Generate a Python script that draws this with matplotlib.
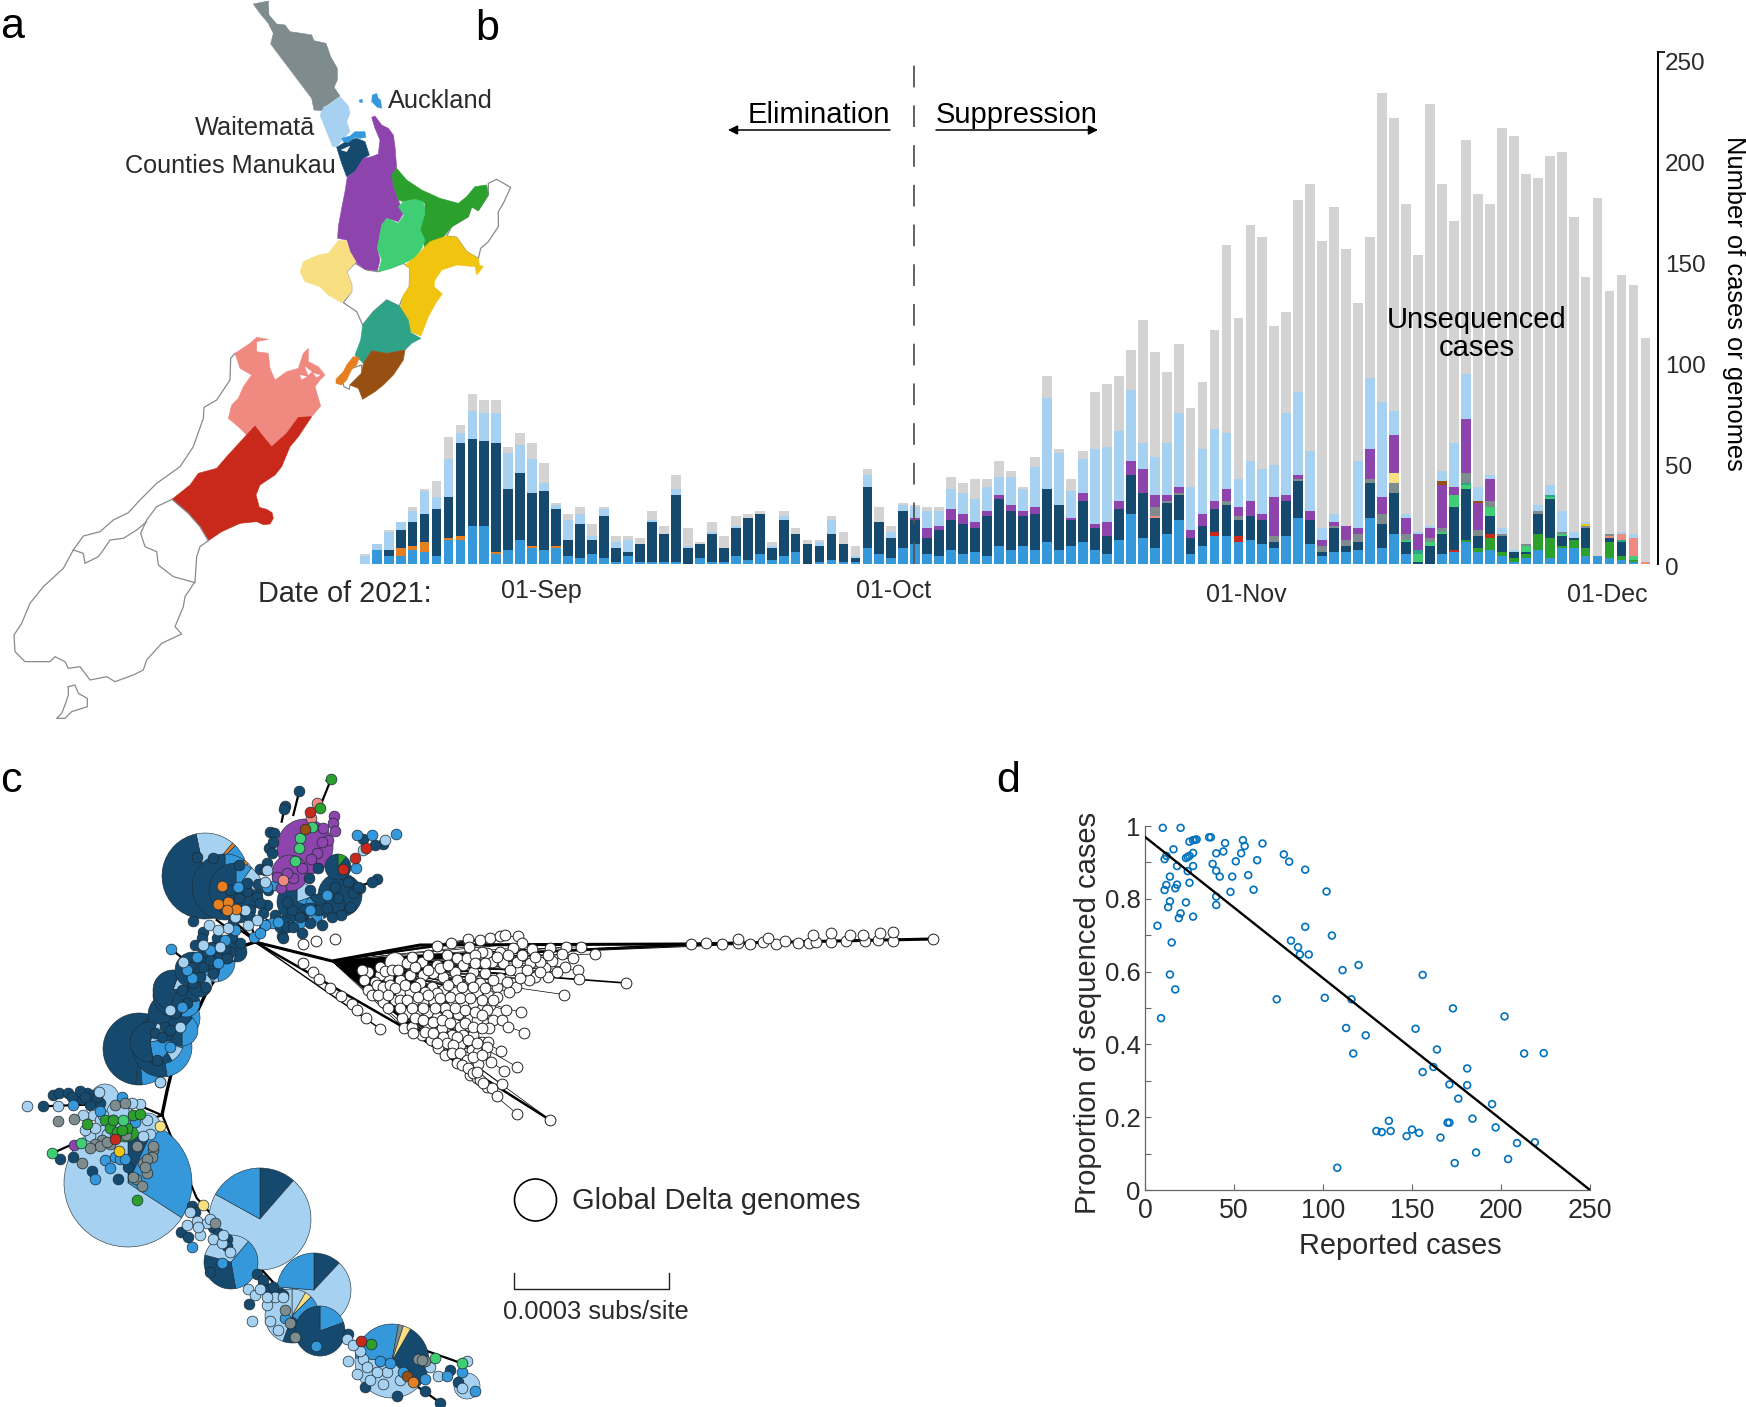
import numpy as np
import matplotlib
matplotlib.use('Agg')
import matplotlib.pyplot as plt
from matplotlib.patches import Polygon, Wedge, Circle
from matplotlib.transforms import ScaledTranslation

plt.rcParams['font.family'] = ['Liberation Sans', 'DejaVu Sans']

W, H = 1746, 1407
TXT = '#2a2a2a'

# region colours shared by map, bars and tree
COL = {
    'auckland': '#3498db', 'counties': '#154a6e', 'waitemata': '#a6d1f0',
    'northland': '#7f8c8d', 'waikato': '#8e44ad', 'bop': '#2ca02c',
    'lakes': '#3fce73', 'taranaki': '#f7df82', 'hawkes': '#f1c40f',
    'midcentral': '#2fa387', 'wairarapa': '#975012', 'capital': '#e67e22',
    'nelson': '#f08a80', 'canterbury': '#c9291b', 'unseq': '#d3d3d3',
}

# ---------------------------------------------------------------------------
# Panel b: daily counts, 108 days
# ---------------------------------------------------------------------------
auckland = [0,7,4,4,7,6,4,12,12,19, 19,5,7,12,8,7,8,4,3,5, 3,1,4,1,1,1,1,0,3,1,
            1,4,2,5,2,4,6,0,1,2, 1,1,8,5,3,8,10,5,4,7, 5,6,4,9,7,9,7,11,7,9,
            11,7,5,12,25,13,8,15,22,5, 9,14,14,11,12,10,8,14,23,10,
            4,6,6,7,23,8,15,5,0,0, 5,6,11,6,7,4,1,3,7,3, 8,8,4,4,3,2,1,0]
counties = [0,0,3,9,12,14,23,20,46,43, 42,54,30,33,26,29,18,8,17,7, 21,7,2,9,20,14,33,8,7,14,
            7,14,21,20,6,18,9,10,8,13, 9,2,30,16,10,18,12,8,13,15, 15,12,20,23,19,15,18,26,22,13,
            20,11,9,15,19,22,15,15,12,8, 10,11,15,8,12,12,3,17,18,12,
            2,12,3,4,17,12,20,6,1,9, 10,21,25,6,9,8,3,1,10,19, 5,1,10,0,2,7,0,0]
waitemata = [4,3,9,4,5,11,6,19,5,14, 14,15,18,14,17,4,2,10,5,2, 3,3,6,0,1,0,3,1,0,1,
             0,1,0,0,1,2,0,0,2,7, 0,1,6,0,3,3,5,8,7,10, 10,11,12,9,14,11,20,45,26,13,
             17,37,37,35,35,13,19,26,37,21, 32,36,28,14,20,22,16,41,41,30,
             6,4,0,33,35,47,12,2,1,1, 5,22,22,7,2,3,1,0,3,5, 10,3,1,0,0,1,2,0]
unsequenced = [1,0,1,0,2,1,8,11,4,8, 6,6,3,6,8,10,1,3,3,6, 1,3,2,3,4,4,7,9,1,5,
               6,5,2,1,2,2,3,2,1,2, 6,5,3,7,3,1,1,2,2,6, 5,10,4,8,3,1,5,11,2,6,
               4,28,31,27,20,61,52,35,34,39, 33,49,93,80,117,115,69,50,95,132,
               142,152,137,78,70,153,145,153,137,209, 142,110,116,145,134,198,205,183,162,163,
               178,156,121,177,120,127,123,111]

# regions with few sequenced cases, day index -> count
capital = {3:4, 4:2, 5:5, 7:1, 8:2, 11:1, 14:1, 16:1}
bop = {92:1, 93:2, 94:6, 95:2, 96:2, 97:2, 98:8, 99:10, 100:1, 101:4, 102:4, 104:8, 105:2, 106:1}
canterbury = {71:2, 73:3, 91:1, 94:2}
lakes = {87:1, 88:4, 89:2, 90:1, 91:6, 92:2, 94:4, 97:3, 99:1, 100:1, 106:2}
midcentral = {88:2, 92:1, 99:1, 105:1}
nelson = {66:1, 104:1, 105:3, 106:9, 107:1}
northland = {66:4, 67:1, 68:1, 72:2, 73:2, 76:3, 78:1, 80:3, 81:1, 82:3, 83:4, 84:2, 85:5, 86:5, 87:3,
             89:2, 90:2, 92:5, 93:3, 94:3, 95:1, 97:1, 98:1, 100:1, 102:1, 104:1}
hawkes = {102:1}
taranaki = {86:5}
waikato = {46:1, 47:5, 48:2, 49:5, 50:5, 51:3, 52:2, 53:2, 54:3, 55:2, 56:3, 59:1, 60:4, 61:2, 62:7, 63:4,
           64:7, 65:12, 66:6, 67:3, 68:3, 69:4, 70:6, 71:4, 72:6, 73:4, 74:7, 75:3, 76:19, 77:3, 78:2, 79:4,
           80:3, 81:2, 82:7, 83:3, 84:15, 85:8, 86:19, 87:8, 88:8, 89:5, 90:21, 91:4, 92:27, 93:13, 94:11}
wairarapa = {90:2, 93:1}

bar_yticks = [0, 50, 100, 150, 200, 250]
date_labels = ['01-Sep', '01-Oct', '01-Nov', '01-Dec']

# ---------------------------------------------------------------------------
# Panel d: reported cases vs proportion sequenced
# ---------------------------------------------------------------------------
reported = [10,20,16,11,12,18,14,12,11,17,18,14,13,23,20,19,27,7,15,14,17,9,25,27,28,29,36,37,45,55,56,66,
            40,44,27,25,24,23,54,51,63,38,27,24,40,42,49,58,25,48,61,40,40,78,81,90,102,90,105,82,86,87,92,
            120,111,74,101,116,156,173,202,113,124,152,117,164,213,224,162,156,181,171,181,176,195,137,130,
            133,138,147,150,154,170,171,184,197,166,209,219,186,204,174,108]
prop_seq = [.995,.995,.936,.909,.918,.890,.861,.838,.824,.829,.839,.793,.777,.790,.760,.747,.751,.726,.680,.592,
            .551,.472,.957,.961,.962,.963,.969,.969,.953,.961,.945,.952,.925,.930,.926,.918,.915,.912,.925,.903,
            .906,.896,.890,.876,.877,.861,.861,.865,.844,.819,.825,.806,.783,.922,.902,.880,.820,.723,.699,.685,
            .667,.647,.647,.618,.604,.524,.528,.524,.591,.499,.477,.445,.425,.443,.375,.386,.375,.376,.338,.324,
            .334,.290,.288,.251,.236,.190,.162,.159,.162,.148,.166,.157,.185,.185,.196,.172,.144,.129,.131,.103,
            .085,.074,.061]
fit_x = [0, 250]
fit_y = [0.97, 0]

# ---------------------------------------------------------------------------
# Panel a: region outlines (crop units, see to_north / to_south)
# ---------------------------------------------------------------------------
north_regions = {
    'northland': [(40,12),(85,3),(87,45),(110,72),(135,75),(150,95),(185,100),(215,105),(222,122),(258,130),(272,170),
                  (292,205),(292,240),(282,262),(300,288),(262,315),(245,332),(222,330),(215,295),(92,132),(100,100),(85,70),(60,40)],
    'waitemata': [(300,290),(325,318),(330,340),(320,365),(330,395),(315,410),(290,440),(278,440),(240,345),(252,320),(268,315)],
    'counties': [(290,442),(325,420),(350,415),(375,425),(388,465),(370,475),(345,515),(320,530),(305,490)],
    'waikato': [(395,352),(405,348),(425,375),(445,385),(460,405),(465,440),(470,505),(455,525),(462,560),(475,600),(490,640),
                (475,665),(440,655),(425,675),(412,745),(420,780),(412,812),(375,808),(345,785),(330,755),(320,720),(293,715),
                (295,680),(305,625),(315,575),(322,530),(345,515),(370,475),(395,470),(415,462),(420,420),(405,385)],
    'bop': [(470,505),(500,540),(545,570),(600,595),(655,610),(680,590),(705,560),(740,555),(745,585),(715,632),(695,620),
            (685,650),(635,680),(605,718),(575,725),(555,745),(540,690),(553,640),(555,610),(525,598),(490,605),(475,600),(462,560),(455,525)],
    'lakes': [(490,605),(525,598),(550,605),(555,640),(540,690),(555,720),(545,745),(525,775),(490,790),(455,805),(415,815),
              (425,780),(412,745),(425,675),(440,655),(475,670),(492,645),(475,620)],
    'taranaki': [(295,722),(320,722),(330,755),(348,785),(320,815),(335,855),(335,875),(305,908),(265,885),(240,860),(195,845),
                 (180,815),(190,785),(235,765),(265,760)],
    'hawkes': [(570,725),(620,708),(650,712),(680,755),(715,775),(718,795),(730,800),(710,825),(705,800),(650,795),(605,810),
               (585,840),(582,860),(607,882),(590,905),(565,950),(543,1008),(510,995),(505,960),(478,935),(490,885),(508,860),(510,805),(495,795),(525,772)],
    'midcentral': [(440,900),(478,918),(505,960),(512,998),(543,1015),(515,1030),(495,1050),(440,1060),(395,1052),(370,1090),(345,1065),(362,1020),(368,975),(400,935)],
    'wairarapa': [(395,1052),(440,1060),(495,1050),(490,1080),(460,1125),(430,1155),(405,1175),(368,1198),(355,1165),(330,1155),(365,1120),(370,1090)],
    'capital': [(340,1070),(358,1072),(350,1095),(335,1108),(320,1140),(305,1155),(288,1150),(288,1138),(310,1115),(320,1095)],
}
auckland_bits = [
    [(397,285),(410,280),(415,295),(422,300),(425,325),(412,322),(395,305)],
    [(358,300),(367,298),(367,308),(358,306)],
    [(305,415),(330,408),(345,395),(375,395),(378,412),(360,415),(345,412),(325,428),(310,425)],
]
manukau_inlet = [(303,450),(330,438),(320,455)]
north_blank = [
    [(745,550),(770,538),(812,562),(790,610),(775,635),(775,680),(745,725),(722,745),(715,775),(680,755),(650,712),(620,708),(635,680),(685,650),(695,620),(715,632),(745,585)],
    [(320,815),(345,790),(380,810),(415,815),(490,790),(510,805),(508,860),(485,900),(478,918),(440,900),(400,935),(368,975),(350,935),(310,908),(335,875),(335,855)],
    [(335,1105),(365,1095),(365,1120),(330,1155),(328,1168),(312,1160),(308,1145)],
]
south_regions = {
    'nelson': [(705,70),(750,40),(770,22),(805,28),(770,35),(770,65),(805,70),(810,115),(825,150),(860,125),(895,115),(910,70),(925,55),(925,95),
               (955,110),(975,135),(960,150),(945,170),(962,228),(935,260),(895,262),(860,310),(815,350),(790,320),(765,288),(745,320),(715,290),
               (685,265),(695,225),(715,205),(730,170),(755,135),(720,115)],
    'canterbury': [(516,508),(570,465),(595,430),(650,415),(680,380),(735,320),(765,288),(790,320),(815,350),(860,310),(895,262),(935,260),(895,320),
                   (870,350),(845,410),(825,435),(780,465),(768,495),(778,532),(800,538),(816,548),(820,565),(810,582),(790,584),(770,575),(720,580),(665,605),(625,632),(600,590),(565,550)],
}
marlborough_flecks = [[(915,110),(935,125),(925,135)], [(940,130),(960,135),(950,142)], [(900,135),(920,140),(905,148)]]
south_lines = [
    [(705,70),(692,85),(690,150),(650,210),(612,232),(610,265),(580,350),(540,410),(470,460),(420,510),(385,548),(340,570),(300,605),(250,618),(220,660)],
    [(220,660),(190,715),(130,770),(90,820),(65,880),(42,915),(45,965),(75,995),(150,995),(165,980),(195,995),(205,1015),(240,1010),(270,1050),(320,1040),
     (345,1055),(400,1035),(430,1020),(440,990),(485,940),(545,912),(525,890),(550,830),(555,800),(585,755),(590,680),(600,650),(625,632)],
    [(516,508),(470,530),(440,570),(422,610),(435,650),(470,665),(475,705),(520,740),(585,758)],
    [(440,575),(410,600),(370,625),(330,630),(310,660),(295,680),(255,700),(250,670),(220,660)],
    [(516,508),(565,550),(600,590),(625,632)],
    [(205,1070),(225,1065),(235,1090),(262,1105),(262,1130),(215,1145),(195,1165),(170,1165),(185,1150),(195,1125),(205,1095),(205,1070)],
]

# ---------------------------------------------------------------------------
# Panel c: tree, pie nodes and tips (picture pixels unless a crop helper wraps them)
# ---------------------------------------------------------------------------
trunk = [(162,1115),(167,1091),(173,1066),(187,1033),(207,991),(227,962),(243,946),(255,942)]
hub = (332,961)

pie_x = [128,260,231,314,292,320,392,205,225,236,139,175,170,160,173,178,162,193,305,290,340,297,338,125,467,
         215,225,237,205,200,186,182,150, 310,296,318,283,335, 105,148,118]
pie_y = [1183,1219,1262,1290,1316,1331,1361,876,887,890,1049,995,1015,1040,990,1018,1047,970,847,873,895,902,867,1125,1386,
         962,950,952,968,985,1003,1030,1042, 915,920,907,925,905, 1098,1125,1112]
pie_r = [64,51,27,37,27,25,37,43,33,27,36,22,22,24,20,22,30,18,28,18,22,20,13,17,13,
         20,14,10,15,12,14,16,20, 12,11,13,9,10, 14,12,11]
pie_start = [0,0,40,0,0,0,30,-12,0,0,185,40,30,40,20,30,40,20,0,0,0,0,0,60,0,
             60,20,200,120,30,80,40,20, 30,90,150,60,10, 0,0,0]
pie_parts = [
    [('counties',25),('auckland',98),('waitemata',237)],
    [('counties',41),('waitemata',258),('auckland',61)],
    [('auckland',130),('counties',115),('waitemata',115)],
    [('counties',43),('waitemata',232),('auckland',85)],
    [('waitemata',30),('taranaki',15),('auckland',85),('counties',70),('waitemata',160)],
    [('auckland',70),('counties',290)],
    [('counties',105),('waitemata',140),('auckland',95),('northland',8),('taranaki',12)],
    [('waitemata',52),('capital',5),('auckland',40),('counties',263)],
    [('auckland',35),('capital',10),('waitemata',45),('counties',270)],
    [('auckland',35),('waitemata',55),('counties',270)],
    [('counties',235),('waitemata',30),('auckland',85),('counties',10)],
    [('auckland',90),('waitemata',50),('counties',220)],
    [('auckland',100),('counties',260)],
    [('auckland',70),('waitemata',40),('counties',250)],
    [('waitemata',60),('counties',300)],
    [('auckland',110),('counties',250)],
    [('auckland',130),('counties',230)],
    [('waitemata',120),('counties',240)],
    [('waikato',360)],
    [('waikato',360)],
    [('counties',360)],
    [('waitemata',70),('auckland',40),('counties',250)],
    [('bop',40),('counties',320)],
    [('bop',180),('waitemata',180)],
    [('waitemata',360)],
    [('auckland',110),('waitemata',50),('counties',200)],
    [('auckland',120),('counties',240)],
    [('waitemata',100),('counties',260)],
    [('auckland',90),('counties',270)],
    [('waitemata',70),('counties',290)],
    [('auckland',120),('counties',240)],
    [('auckland',140),('counties',220)],
    [('waitemata',60),('auckland',90),('counties',210)],
    [('auckland',110),('waitemata',70),('counties',180)],
    [('auckland',150),('counties',210)],
    [('waitemata',80),('auckland',90),('counties',190)],
    [('auckland',120),('counties',240)],
    [('counties',360)],
    [('waitemata',360)],
    [('waitemata',360)],
    [('waitemata',360)],
]

# white tips, crop units of the global cloud
global_cloud = [(412,78),(453,70),(505,58),(508,80),(540,60),(570,55),(600,48),(615,45),(655,47),(665,70),(695,88),(750,85),(797,82),(842,80),(885,102),
    (820,115),(787,103),(757,122),(735,145),(795,140),(835,150),(838,178),(745,170),(705,170),(688,180),(655,152),(648,200),(627,215),(590,200),(793,224),
    (320,130),(365,125),(410,135),(440,105),(470,115),(490,135),(520,155),(465,155),(560,100),(545,95),(600,95),(640,85),(610,130),(575,125),
    (650,125),(690,130),(720,125),(680,150),(630,150),(600,175),(555,160),(540,190),(510,175),(470,180),(430,170),(400,160),(370,165),(330,165),(300,180),
    (265,170),(240,165),(205,155),(185,150),(192,180),(225,185),(205,210),(215,225),(250,245),(285,240),(265,265),(300,215),(330,215),(360,190),(395,200),
    (430,210),(465,215),(500,220),(530,215),(565,225),(590,230),(570,255),(545,260),(520,250),(490,250),(460,245),(435,265),(400,240),(370,245),(340,245),
    (320,280),(355,270),(385,275),(410,290),(435,300),(475,282),(510,295),(530,300),(560,270),(580,300),(605,300),(618,270),(663,277),(625,320),(673,338),
    (567,325),(305,295),(312,325),(335,320),(365,345),(385,315),(425,325),(455,345),(480,320),(490,345),(520,345),(545,365),(565,365),(393,360),(415,385),
    (435,405),(470,390),(480,375),(500,400),(515,390),(535,395),(555,400),(603,393),(573,425),(613,452),(650,440),(470,430),(495,410),(515,435),(535,432),
    (510,465),(530,475),(540,480),(560,500),(575,505),(590,527),(605,492),(652,582),(751,600),
    (240,140),(255,152),(275,150),(295,150),(345,140),(385,150),(420,145),(445,135),(500,115),(525,105),(525,130),(555,130),(590,112),(625,105),(665,105),(705,110),(745,105),
    (335,110),(385,105),(230,195),(250,200),(270,195),(285,205),(315,195),(345,200),(375,215),(410,220),(445,195),(485,200),(520,200),(555,205),(580,180),(620,185),(660,175),(720,155),(770,155),
    (235,225),(265,225),(300,240),(320,240),(355,230),(385,225),(420,235),(450,230),(480,235),(510,235),(545,240),(580,240),
    (300,265),(335,265),(370,265),(405,265),(440,285),(465,265),(495,270),(525,275),(545,285),
    (345,295),(370,300),(400,305),(425,300),(450,310),(495,310),(520,320),(545,325),
    (340,340),(375,335),(400,340),(430,350),(470,350),(505,360),(530,370),(440,370),(460,375),(410,370),
    (455,400),(480,400),(500,420),(520,410),(560,380),(545,405),(485,435),(505,445),(520,460),(550,490),(530,455)]
global_string = [(8,130),(40,155),(57,177),(90,205),(122,227),(155,252),(172,270),(197,293),(240,326)]
global_near = [(47,62),(106,57),(8,72)]
global_pie = (285,128)
# long arm to the right, picture pixels
global_arm = [(691,944),(706,943),(722,944),(738,943),(750,944),(763,942),(776,944),(785,941),(798,943),(809,943),(816,942),(831,942),(831,933),(846,941),
              (850,935),(865,941),(878,940),(880,933),(893,941),(893,932),(863,935),(813,935),(768,938),(738,939),(933,939),(626,983)]

# coloured tips of the upper clade, crop units
up_counties = [(142,262),(190,265),(267,285),(128,453),(160,485),(155,505),(448,63),(405,108),(403,118),(360,187),(372,190),(358,235),(365,250),(330,296),
               (325,343),(268,385),(290,363),(320,380),(350,405),(300,420),(330,400),(395,497),(455,490),(515,465),(572,435),(680,328),(665,335),(610,370),
               (565,385),(630,355),(505,295),(476,325),(700,222),(675,225),(640,207),(505,420),(450,440),(425,420),(400,505),(270,520),(240,545),(225,540),
               (205,565),(170,545),(135,525),(160,590),(190,610),(165,650),(130,640),(50,795),(15,790),(45,770),
               (190,530),(215,520),(245,500),(200,505),(230,565),(180,570),(150,620),(120,590),(95,660),(110,700),(75,730),(60,780),(35,800),(20,870),
               (250,455),(270,440),(300,440),(340,430),(375,435),(410,470),(430,470),(480,460),(530,415),(545,440),(600,410),(625,350),(595,335),(555,350),
               (480,360),(410,395),(355,360),(350,280),(370,215),(345,300),(290,340),(240,360)]
up_auckland = [(63,537),(312,500),(365,460),(345,465),(737,192),(665,195),(618,295),(620,195),(375,345),(265,350),(205,580),(125,625),
               (225,510),(180,540),(140,560),(110,600),(255,480),(330,490),(385,455),(480,420),(530,375),(95,710),(60,830),(350,350)]
up_waitemata = [(178,465),(235,473),(100,577),(320,450),(295,465),(350,300),(640,240),(705,210),(30,935),(60,720),
                (205,480),(255,440),(285,420),(210,530),(160,525),(345,335),(90,770)]
up_capital = [(217,347),(205,402),(233,395),(257,418),(232,420)]
up_waikato = [(552,138),(550,160),(555,182),(535,210),(500,250),(483,268),(457,295),(430,325),(410,310),(393,355),(380,320),(520,175),(515,215)]
up_nelson = [(500,100),(482,145),(398,331)]
up_canterbury = [(480,127),(580,297),(615,265),(648,235)]
up_bop = [(543,28),(509,114)]
up_lakes = [(487,172),(450,205),(447,235),(434,273)]
up_wairarapa = [(466,178)]
up_branches = [[(320,515),(260,460)],[(320,515),(290,430)],[(320,515),(345,420)],[(320,515),(385,430)],[(320,515),(350,450)],[(510,110),(543,28)],
               [(430,135),(448,63)],[(395,155),(405,108)],[(640,345),(680,328)],[(60,535),(105,570)],[(200,450),(240,480)],[(320,515),(270,480)]]

# lower clades, crop units
low_counties = [(158,810),(178,807),(205,805),(130,838),(225,820),(262,805),(280,810),(300,830),(220,960),(180,965),(275,995),(353,1015),(385,985),(245,820),(270,835),
                (542,1142),(565,1155),(748,1316),(790,1270),(810,1280),(840,1290),(680,1160),(630,1240),
                (1095,1518),(1190,1538),(1275,1527),(1320,1555),(1045,1390),(1350,1475),(1375,1505),
                (240,800),(255,815),(290,815),(215,815),(575,1080),(585,1095),(640,1130),(655,1145),(680,1175),(770,1245),(790,1258),(820,1275),(850,1295)]
low_waitemata = [(82,838),(175,838),(298,803),(420,832),(280,860),(270,910),(340,870),(480,780),
                 (570,1095),(590,1115),(560,1125),(600,1150),(620,1120),(640,1160),(665,1170),(745,1280),(765,1295),(825,1300),(800,1320),(755,1357),(810,1357),(835,1380),(850,1300),
                 (1045,1455),(1070,1487),(1040,1400),(1160,1480),(1090,1450),(1290,1470),(1315,1490),(1400,1455),(1385,1520),
                 (300,870),(255,895),(320,905),(375,880),(440,870),(450,905),(285,890),(310,860),(395,830),(430,910),(250,860),
                 (595,1130),(630,1110),(670,1150),(690,1190),(800,1300),(780,1280),(1100,1470),(1130,1480),(1080,1430),(1060,1415),(1200,1500),(1110,1500),(1150,1510)]
low_auckland = [(220,835),(365,815),(315,968),(285,1015),(330,988),(300,850),(575,1178),(665,1218),(855,1350),(948,1418),
                (1140,1455),(1275,1497),(1340,1490),(1425,1527),(1385,1480),(345,960),(360,965),(375,965),(405,875),(1170,1460),(1210,1480)]
low_northland = [(175,873),(222,868),(345,835),(375,830),(378,908),(305,920),(285,930),(245,975),(410,935),(460,945),(430,975),(440,1000),(408,1013),(425,1032),(330,930),
                 (645,1120),(855,1330),(870,1362),(885,1397),(1255,1450),(1275,1455),(455,960),(440,965),(460,935),(435,985),(400,1010),(300,935),(270,940),(320,925),(345,905),(1265,1452)]
low_waikato = [(222,932)]
low_bop = [(262,880),(316,872),(400,860),(420,857),(411,1065),(1112,1413),(330,890),(350,900),(380,890),(340,870),(365,895)]
low_lakes = [(368,870),(156,952),(243,928),(1305,1446),(1385,1460)]
low_canterbury = [(345,918),(1083,1407)]
low_hawkes = [(357,947)]
low_taranaki = [(481,885),(608,1078)]
low_wairarapa = [(1220,1490)]
low_capital = [(1240,1505)]
low_branches = [[(487,860),(400,830),(130,838)],[(487,860),(300,900),(156,952)],[(487,860),(590,1060),(860,1300),(1100,1430),(1320,1555)],
                [(1280,1430),(1385,1460)],[(980,50),(993,47)]]


# crop units -> picture pixels
def to_north(p):
    p = np.array(p, float)
    return np.c_[240 + p[:, 0] / 3, p[:, 1] / 3]

def to_south(p):
    p = np.array(p, float)
    return np.c_[p[:, 0] / 3, 330 + p[:, 1] / 3]

def to_upper(p):
    p = np.array(p, float)
    return np.c_[150 + p[:, 0] / 3, 770 + p[:, 1] / 3]

def to_lower(p):
    p = np.array(p, float)
    return np.c_[p[:, 0] / 3, 760 + p[:, 1] / 2.42]

def to_cloud(p):
    p = np.array(p, float)
    return np.c_[300 + p[:, 0] / 3, 920 + p[:, 1] / 3]

def px_axes(fig, left, top, right, bottom):
    return fig.add_axes([left / W, 1 - bottom / H, (right - left) / W, (bottom - top) / H])


fig = plt.figure(figsize=(W / 100, H / 100), dpi=100)
canvas = fig.add_axes([0, 0, 1, 1])
canvas.set_xlim(0, W)
canvas.set_ylim(H, 0)
canvas.axis('off')

# ---------------------------------------------------------------------------
# Map
# ---------------------------------------------------------------------------
for shape in north_blank:
    canvas.add_patch(Polygon(to_north(shape), fc='white', ec='#8a8a8a', lw=0.9))
for key, shape in north_regions.items():
    canvas.add_patch(Polygon(to_north(shape), fc=COL[key], ec=COL[key], lw=0.4))
for shape in auckland_bits:
    canvas.add_patch(Polygon(to_north(shape), fc=COL['auckland'], ec=COL['auckland'], lw=0.3))
canvas.add_patch(Polygon(to_north(manukau_inlet), fc='white', ec='white', lw=0.2))

for shape in south_lines:
    xy = to_south(shape)
    canvas.plot(xy[:, 0], xy[:, 1], color='#8a8a8a', lw=0.9)
for key, shape in south_regions.items():
    canvas.add_patch(Polygon(to_south(shape), fc=COL[key], ec=COL[key], lw=0.4))
for shape in marlborough_flecks:
    canvas.add_patch(Polygon(to_south(shape), fc='white', ec='white', lw=0.2))

canvas.text(388, 101, 'Auckland', fontsize=18.3, color=TXT, ha='left', va='center')
canvas.text(315, 128, 'Waitematā', fontsize=18.2, color=TXT, ha='right', va='center')
canvas.text(336, 166, 'Counties Manukau', fontsize=18.2, color=TXT, ha='right', va='center')

# ---------------------------------------------------------------------------
# Tree
# ---------------------------------------------------------------------------
cloud = to_cloud(global_cloud)
string = to_cloud(global_string)
arm = np.array(global_arm, float)

for x, y in cloud:
    canvas.plot([hub[0], x], [hub[1], y], color='k', lw=0.5, zorder=2)
canvas.plot([trunk[-1][0], 403, 550], [trunk[-1][1], 1027, 1120], color='k', lw=1.8, zorder=2)
canvas.plot([trunk[-1][0], string[-1, 0]], [trunk[-1][1], string[-1, 1]], color='k', lw=1.0, zorder=2)
canvas.plot([trunk[-1][0], hub[0], 420, 691, 933], [trunk[-1][1], hub[1], 945, 944, 939], color='k', lw=2.2, zorder=2)
canvas.plot([hub[0], 626], [hub[1], 983], color='k', lw=1.2, zorder=2)
for i in range(6):
    canvas.plot([hub[0], arm[i, 0]], [hub[1], arm[i, 1]], color='k', lw=0.7, zorder=2)

gp = to_cloud([global_pie])[0]
canvas.add_patch(Circle(gp, 10, fc='white', ec='#222222', lw=0.7, zorder=3))
canvas.scatter(cloud[:, 0], cloud[:, 1], s=60, fc='white', ec='#222222', lw=0.7, zorder=3)
canvas.scatter(string[:, 0], string[:, 1], s=60, fc='white', ec='#222222', lw=0.7, zorder=3)
near = to_cloud(global_near)
canvas.scatter(near[:, 0], near[:, 1], s=60, fc='white', ec='#222222', lw=0.7, zorder=3)
canvas.scatter(arm[:, 0], arm[:, 1], s=60, fc='white', ec='#222222', lw=0.7, zorder=3)

trunk_xy = np.array(trunk, float)
canvas.plot(trunk_xy[:, 0], trunk_xy[:, 1], color='k', lw=2.4, zorder=4, solid_capstyle='round')
for seg in up_branches:
    xy = to_upper(seg)
    canvas.plot(xy[:, 0], xy[:, 1], color='k', lw=1.6, zorder=4)
for seg in low_branches:
    xy = to_lower(seg)
    canvas.plot(xy[:, 0], xy[:, 1], color='k', lw=1.6, zorder=4)

# pies, large ones first; the y axis points down so angles run clockwise
order = np.argsort(pie_r)[::-1]
z = 5.0
for i in order:
    theta = -90 + pie_start[i]
    for key, deg in pie_parts[i]:
        canvas.add_patch(Wedge((pie_x[i], pie_y[i]), pie_r[i], theta, theta + deg,
                               fc=COL[key], ec='#1c2a33', lw=0.4, zorder=z))
        theta += deg
    z += 0.01

layers = [
    (to_upper(up_counties), 'counties'), (to_upper(up_auckland), 'auckland'), (to_upper(up_waitemata), 'waitemata'),
    (to_upper(up_capital), 'capital'), (to_upper(up_waikato), 'waikato'), (to_upper(up_nelson), 'nelson'),
    (to_upper(up_canterbury), 'canterbury'), (to_upper(up_bop), 'bop'), (to_upper(up_lakes), 'lakes'),
    (to_upper(up_wairarapa), 'wairarapa'),
    (to_lower(low_counties), 'counties'), (to_lower(low_waitemata), 'waitemata'), (to_lower(low_auckland), 'auckland'),
    (to_lower(low_northland), 'northland'), (to_lower(low_waikato), 'waikato'), (to_lower(low_bop), 'bop'),
    (to_lower(low_lakes), 'lakes'), (to_lower(low_canterbury), 'canterbury'), (to_lower(low_hawkes), 'hawkes'),
    (to_lower(low_taranaki), 'taranaki'), (to_lower(low_wairarapa), 'wairarapa'), (to_lower(low_capital), 'capital'),
]
for xy, key in layers:
    canvas.scatter(xy[:, 0], xy[:, 1], s=60, fc=COL[key], ec='#1c2a33', lw=0.5, zorder=6)

canvas.add_patch(Circle((535.5, 1200), 21, fc='white', ec='k', lw=1.2))
canvas.text(572, 1201, 'Global Delta genomes', fontsize=21, color=TXT, ha='left', va='center')
canvas.plot([514, 514, 669, 669], [1273, 1289, 1289, 1273], color='#222222', lw=1.0)
canvas.text(596, 1312, '0.0003 subs/site', fontsize=18.4, color=TXT, ha='center', va='center')

# panel letters
for letter, lx, ly in [('a', 0, 38), ('b', 475, 40), ('c', 0, 792), ('d', 996, 792)]:
    canvas.text(lx, ly, letter, fontsize=31, color='k', ha='left', va='baseline')

# ---------------------------------------------------------------------------
# Bars
# ---------------------------------------------------------------------------
n_days = len(auckland)
days = np.arange(n_days)

def dense(d):
    return [d.get(i, 0) for i in range(n_days)]

stack = [
    (auckland, 'auckland'), (dense(capital), 'capital'), (dense(bop), 'bop'), (dense(canterbury), 'canterbury'),
    (counties, 'counties'), (dense(lakes), 'lakes'), (dense(midcentral), 'midcentral'), (dense(nelson), 'nelson'),
    (dense(northland), 'northland'), (dense(hawkes), 'hawkes'), (dense(taranaki), 'taranaki'), (dense(waikato), 'waikato'),
    (dense(wairarapa), 'wairarapa'), (waitemata, 'waitemata'), (unsequenced, 'unseq'),
]

ax_b = px_axes(fig, 358.7, 52, 1658, 564)
ax_b.patch.set_alpha(0)
bottom = np.zeros(n_days)
for vals, key in stack:
    ax_b.bar(days, vals, width=0.82, bottom=bottom, color=COL[key], linewidth=0)
    bottom = bottom + np.array(vals)

ax_b.set_xlim(-0.5, 108.05)
ax_b.set_ylim(0, 253.5)
for side in ['left', 'top', 'bottom']:
    ax_b.spines[side].set_visible(False)
ax_b.spines['right'].set_linewidth(1.4)
ax_b.xaxis.set_visible(False)
ax_b.yaxis.tick_right()
ax_b.set_yticks(bar_yticks)
ax_b.tick_params(axis='y', length=0, pad=5, labelsize=17.5, labelcolor=TXT)
ax_b.set_yticks([253.5], minor=True)
ax_b.tick_params(axis='y', which='minor', length=5, width=1.2, direction='out')
for lab in ax_b.get_yticklabels():
    lab.set_transform(lab.get_transform() + ScaledTranslation(0, -2.5 / 100, fig.dpi_scale_trans))

canvas.text(1734, 303, 'Number of cases or genomes', fontsize=18.4, color='k', rotation=270,
            ha='center', va='center')

# elimination / suppression markers
ax_b.plot([(914 - 364.7) / 11.97] * 2, [0, 253], color='#555555', lw=1.3, dashes=(12, 10), zorder=6)
canvas.text(890, 115, 'Elimination', fontsize=21, color='k', ha='right', va='center')
canvas.text(936, 115, 'Suppression', fontsize=21, color='k', ha='left', va='center')
canvas.annotate('', xy=(728, 130), xytext=(890, 130),
                arrowprops=dict(arrowstyle='-|>', color='k', lw=1.1, mutation_scale=14, shrinkA=0, shrinkB=0))
canvas.annotate('', xy=(1098, 130), xytext=(936, 130),
                arrowprops=dict(arrowstyle='-|>', color='k', lw=1.1, mutation_scale=14, shrinkA=0, shrinkB=0))

ax_b.text(1477, 320, 'Unsequenced', fontsize=21, color='k', ha='center', va='center',
          transform=canvas.transData, zorder=7)
ax_b.text(1477, 348, 'cases', fontsize=21, color='k', ha='center', va='center',
          transform=canvas.transData, zorder=7)

canvas.text(258, 594, 'Date of 2021:', fontsize=20.8, color=TXT, ha='left', va='center')
for label, lx, ly in zip(date_labels, [541, 894, 1246, 1607], [591, 591, 595, 595]):
    canvas.text(lx, ly, label, fontsize=18, color=TXT, ha='center', va='center')

# ---------------------------------------------------------------------------
# Panel d
# ---------------------------------------------------------------------------
ax_d = px_axes(fig, 1145, 826, 1590, 1190)
ax_d.patch.set_alpha(0)
ax_d.scatter(reported, prop_seq, s=24, fc='none', ec='#0072bd', lw=1.2, clip_on=False, zorder=3)
ax_d.plot(fit_x, fit_y, color='k', lw=1.7, zorder=4)
ax_d.set_xlim(0, 250)
ax_d.set_ylim(0, 1)
ax_d.set_xticks([0, 50, 100, 150, 200, 250])
ax_d.set_yticks(np.arange(0, 1.01, 0.2))
ax_d.set_yticklabels(['0', '0.2', '0.4', '0.6', '0.8', '1'])
ax_d.set_yticks(np.arange(0.1, 1.0, 0.2), minor=True)
ax_d.tick_params(axis='both', which='both', direction='in', length=4, width=0.8, color='#666666',
                 labelcolor=TXT)
ax_d.tick_params(axis='x', pad=6, labelsize=19.3)
ax_d.tick_params(axis='y', pad=3, labelsize=18.5)
for side in ['top', 'right']:
    ax_d.spines[side].set_visible(False)
for side in ['left', 'bottom']:
    ax_d.spines[side].set_color('#666666')
    ax_d.spines[side].set_linewidth(0.9)
canvas.text(1088, 1013, 'Proportion of sequenced cases', fontsize=21, color=TXT, rotation=90,
            ha='center', va='center')
canvas.text(1400, 1246, 'Reported cases', fontsize=20.8, color=TXT, ha='center', va='center')

plt.savefig('out.png', dpi=100)
plt.close()
